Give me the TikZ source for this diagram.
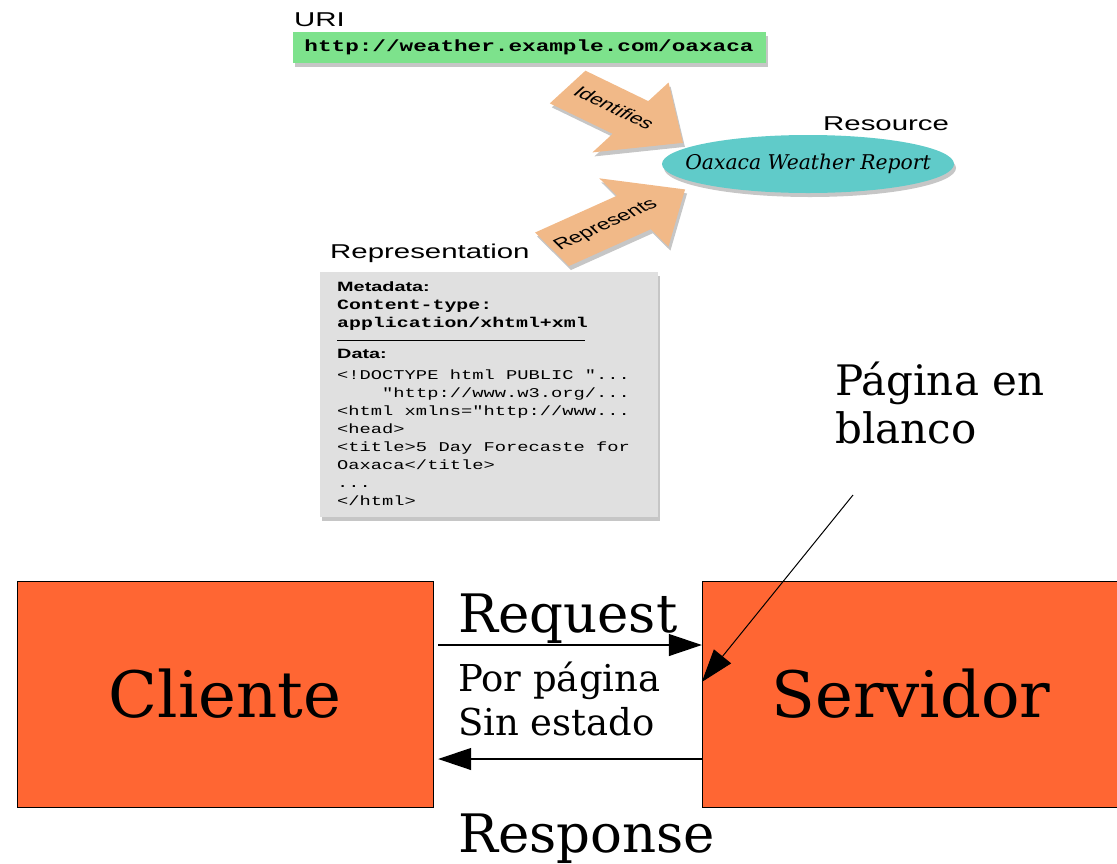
\documentclass[tikz,border=0pt]{standalone}
\usepackage{fontspec}
\setmainfont{DejaVu Serif}
\newfontfamily\labelsans[FakeStretch=1.47]{Liberation Sans}
\newfontfamily\arrowsans{Liberation Sans}
\newfontfamily\codemono[FakeStretch=1.4]{Liberation Mono}
\usetikzlibrary{shapes.geometric,shapes.arrows,shadows,arrows.meta}

\definecolor{urigreen}{RGB}{125,226,140}
\definecolor{arrowpeach}{RGB}{241,185,136}
\definecolor{resteal}{RGB}{96,203,201}
\definecolor{reprgray}{RGB}{224,224,224}
\definecolor{boxorange}{RGB}{255,102,51}

\tikzset{
  softshadow/.style={drop shadow={opacity=.45,shadow xshift=2pt,shadow yshift=-4pt}},
  toplabel/.style={anchor=base west,inner sep=0pt,font=\labelsans\fontsize{20}{22}\selectfont},
  tagarrow/.style={single arrow,fill=arrowpeach,single arrow head indent=0pt,
    inner xsep=-8pt,inner ysep=13pt,text height=11pt,text depth=3pt,
    font=\arrowsans\fontsize{15.5}{17}\selectfont,softshadow},
  bigbox/.style={draw=black,fill=boxorange,minimum height=226pt,font=\fontsize{64}{70}\selectfont},
  flowlabel/.style={anchor=base west,inner sep=0pt},
  msg/.style={line width=1.2pt,-{Triangle[length=33pt,width=22pt]}}
}

\begin{document}
\begin{tikzpicture}[x=1pt,y=-1pt]
\useasboundingbox (0,0) rectangle (1117,863);
\clip (0,0) rectangle (1117,863);
% URI and resource
\node[toplabel] (urilabel) at (294,26) {URI};
\node[fill=urigreen,minimum width=473pt,minimum height=31pt,inner sep=0pt,softshadow,
  font=\codemono\bfseries\fontsize{16.2}{18}\selectfont] (uri) at (529,47.5) {http://weather.example.com/oaxaca};
\node[toplabel] (reslabel) at (823,130) {Resource};
\node[ellipse,fill=resteal,minimum width=292pt,minimum height=58pt,inner sep=0pt,softshadow,
  label={[font=\itshape\fontsize{20.3}{22}\selectfont]center:Oaxaca Weather Report}] (resource) at (808,164) {};
\node[tagarrow,xscale=1.5,rotate=-36,minimum height=95pt,
  single arrow head extend=23pt] (identifies) at (613,109) {Identifies};
\node[tagarrow,xscale=1.5,rotate=34,minimum height=107pt,
  single arrow head extend=21pt] (represents) at (606,225) {Represents};
% representation
\node[toplabel] (reprlabel) at (330,258) {Representation};
\node[fill=reprgray,minimum width=338pt,minimum height=245pt,inner sep=0pt,softshadow] (repr) at (489,394.5) {};
\node[flowlabel,align=left,font=\codemono\bfseries\fontsize{14.2}{17.6}\selectfont] (meta) at (337,327)
  {{\labelsans\fontsize{13.5}{17.6}\selectfont Metadata:}\\Content-type:\\application/xhtml+xml};
\draw[line width=.8pt] (337,340) -- (585,340);
\node[flowlabel,align=left,font=\codemono\fontsize{13.4}{18}\selectfont] (data) at (337,505)
  {{\labelsans\bfseries\fontsize{13.5}{18}\selectfont Data:}\\[2.5pt]
   <!DOCTYPE html PUBLIC "...\\
   \ \ \ \ "http://www.w3.org/...\\
   <html xmlns="http://www...\\
   <head>\\
   <title>5 Day Forecaste for\\
   Oaxaca</title>\\
   ...\\
   </html>};
% client and server
\node[bigbox,minimum width=416pt] (cliente) at (225,694) {Cliente};
\node[bigbox,minimum width=418pt] (servidor) at (911,694) {Servidor};
\coordinate (reqy) at (0,645);
\coordinate (respy) at (0,759);
\draw[msg] ([xshift=5pt]cliente.east |- reqy) -- (servidor.west |- reqy);
\draw[msg] (servidor.west |- respy) -- ([xshift=5pt]cliente.east |- respy);
\node[flowlabel,font=\fontsize{53}{60}\selectfont] (request) at (458,632) {Request};
\node[flowlabel,align=left,font=\fontsize{37}{44}\selectfont] (mode) at (458,735) {Por página\\Sin estado};
\node[flowlabel,font=\fontsize{53}{60}\selectfont] (response) at (458,852) {Response};
\node[flowlabel,align=left,font=\fontsize{42}{48}\selectfont] (blank) at (835,443) {Página en\\blanco};
\coordinate (blankstart) at (853,495);
\draw[line width=1pt,-{Triangle[length=33pt,width=22pt]}] (blankstart) -- ([yshift=12pt]servidor.west);
\end{tikzpicture}
\end{document}
